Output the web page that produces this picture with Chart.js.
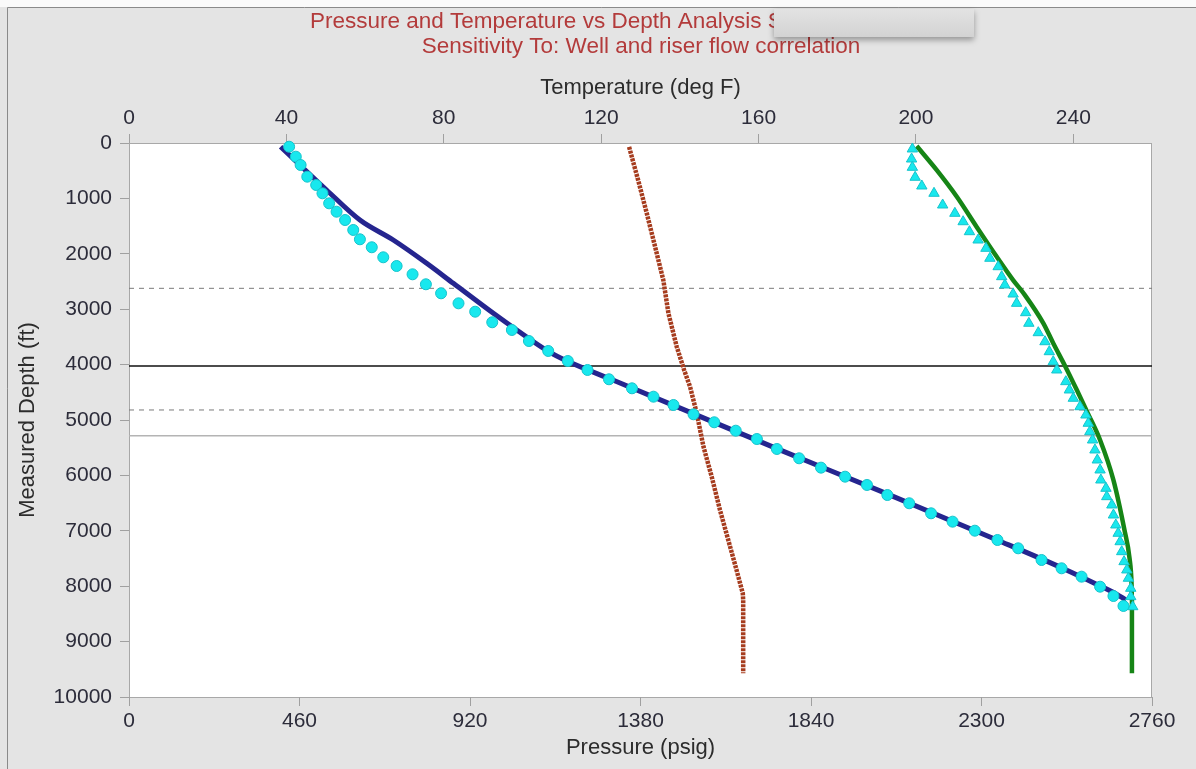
<!DOCTYPE html>
<html>
<head>
<meta charset="utf-8">
<title>Pressure and Temperature vs Depth</title>
<script src="https://cdn.jsdelivr.net/npm/chart.js@4/dist/chart.umd.min.js"></script>
<style>
  html, body { margin: 0; padding: 0; background: #fff; }
  canvas { display: block; }
</style>
</head>
<body>
<canvas id="depthChart" width="1196" height="769"></canvas>
<script>
const titleLines = [
  "Pressure and Temperature vs Depth Analysis S",
  "Sensitivity To: Well and riser flow correlation"
];

// Calculated pressure profile (psig vs ft)
const calcPressure = [409, 533, 623, 713, 803, 875, 983, 1046, 1130, 1182, 1306, 1487, 1756, 2026, 2342, 2517, 2620, 2663, 2690];
const calcPressureDepth = [67, 848, 1390, 1751, 2171, 2532, 3074, 3375, 3755, 3935, 4280, 4785, 5540, 6280, 7165, 7670, 7995, 8140, 8250];

// Measured pressure points
const measPressure = [432, 450, 463, 481, 505, 522, 540, 560, 583, 605, 623, 655, 686, 722, 765, 801, 842, 889, 934, 980,
  1033, 1079, 1131, 1184, 1237, 1295, 1357, 1415, 1469, 1523, 1579, 1637, 1694, 1748, 1808, 1867, 1932, 1991, 2046, 2105,
  2164, 2222, 2282, 2343, 2399, 2462, 2516, 2570, 2620, 2656, 2683];
const measPressureDepth = [67, 247, 397, 608, 758, 908, 1089, 1240, 1390, 1570, 1738, 1882, 2063, 2220, 2370, 2550, 2713, 2894, 3045, 3236,
  3375, 3574, 3754, 3935, 4097, 4265, 4428, 4579, 4729, 4897, 5041, 5193, 5343, 5523, 5691, 5860, 6023, 6173, 6354, 6503,
  6684, 6835, 6998, 7166, 7316, 7527, 7677, 7828, 8009, 8177, 8357];

// Ambient temperature (deg F)
const ambientTemp = [127.1, 129.4, 131.6, 133.7, 135.8, 137.1, 139.2, 141.1, 142.6, 144.3, 146.0, 148.1, 150.2, 152.3, 154.4, 156.0, 156.1, 156.1];
const ambientTempDepth = [70, 670, 1270, 1870, 2475, 3075, 3675, 4100, 4400, 4880, 5480, 6025, 6625, 7165, 7705, 8130, 8250, 9570];

// Calculated fluid temperature
const fluidTemp = [200.2, 205.3, 210.4, 215.4, 220.5, 224.7, 227.7, 232.4, 234.9, 237.9, 240.9, 243.7, 246.8, 250.2, 253.0, 254.3, 254.8, 254.9, 254.9];
const fluidTempDepth = [55, 490, 970, 1510, 2050, 2475, 2745, 3255, 3615, 4025, 4460, 4880, 5360, 6085, 6985, 7500, 7950, 8250, 9570];

// Measured temperature points
const measTemp = [199.1, 198.9, 199.1, 199.8, 201.5, 204.6, 206.8, 209.9, 212.0, 213.6, 215.8, 217.8, 218.8, 220.9, 221.8, 222.6, 224.7,
  225.6, 227.9, 228.7, 231.1, 232.8, 233.9, 234.9, 235.8, 238.1, 239.0, 240.0, 241.7, 243.2, 243.8, 244.2, 244.9, 245.5,
  246.1, 246.8, 247.0, 248.3, 248.5, 249.8, 250.2, 250.8, 251.4, 251.9, 252.3, 252.9, 253.6, 254.0, 254.6, 254.6, 255.1];
const measTempDepth = [108, 289, 439, 619, 776, 908, 1119, 1269, 1421, 1601, 1751, 1901, 2081, 2233, 2413, 2563, 2726,
  2894, 3063, 3254, 3424, 3587, 3767, 3948, 4097, 4308, 4458, 4608, 4760, 4910, 5059, 5211, 5361, 5541,
  5722, 5902, 6083, 6233, 6384, 6534, 6715, 6895, 7045, 7197, 7377, 7557, 7707, 7857, 8038, 8189, 8370];

// Horizontal marker depths (ft)
const markerDepths = [2623, 4025, 4819, 5283];

const pressureRange = [0, 2760];
const tempRange = [0, 260];
const depthRange = [0, 10000];

const FONT = '"Liberation Sans", Arial, sans-serif';
const markerStyles = [
  { color: "#7a7a7a", width: 1, dash: [5, 5] },
  { color: "#111111", width: 1.5, dash: [] },
  { color: "#7a7a7a", width: 1, dash: [5, 5] },
  { color: "#b4b4b4", width: 1.5, dash: [] }
];

function toPoints(xs, ys) {
  return xs.map((x, i) => ({ x: x, y: ys[i] }));
}

// Grey panel, white plot area
const backdrop = {
  id: "backdrop",
  beforeDraw(chart) {
    const { ctx, chartArea: a, width, height } = chart;
    ctx.save();
    ctx.fillStyle = "#fafafa";
    ctx.fillRect(0, 0, width, height);
    ctx.fillStyle = "#e4e4e4";
    ctx.fillRect(0, 7, width, height - 7);
    ctx.strokeStyle = "#8a8a8a";
    ctx.lineWidth = 1;
    ctx.beginPath();
    ctx.moveTo(7.5, height);
    ctx.lineTo(7.5, 7.5);
    ctx.lineTo(width, 7.5);
    ctx.stroke();
    ctx.fillStyle = "#ffffff";
    ctx.fillRect(a.left, a.top, a.right - a.left, a.bottom - a.top);
    ctx.strokeStyle = "#a8a8a8";
    ctx.strokeRect(a.left + 0.5, a.top + 0.5, a.right - a.left - 1, a.bottom - a.top);
    ctx.restore();
  }
};

// Two-line heading plus the grey box covering part of it
const heading = {
  id: "heading",
  afterDraw(chart) {
    const ctx = chart.ctx;
    ctx.save();
    ctx.font = "22.5px " + FONT;
    ctx.fillStyle = "#b33b3b";
    ctx.textBaseline = "middle";
    ctx.textAlign = "left";
    ctx.fillText(titleLines[0], 310, 22);
    ctx.textAlign = "center";
    ctx.fillText(titleLines[1], 641, 47);

    ctx.shadowColor = "rgba(0,0,0,0.35)";
    ctx.shadowBlur = 6;
    ctx.shadowOffsetY = 3;
    const g = ctx.createLinearGradient(0, 10, 0, 38);
    g.addColorStop(0, "#e2e2e2");
    g.addColorStop(1, "#d2d2d2");
    ctx.fillStyle = g;
    ctx.fillRect(774, 9, 200, 28);
    ctx.restore();
  }
};

const datasets = [
  {
    label: "Measured pressure",
    data: toPoints(measPressure, measPressureDepth),
    xAxisID: "x",
    showLine: false,
    pointStyle: "circle",
    pointRadius: 5.5,
    pointBackgroundColor: "#18e8ee",
    pointBorderColor: "#17c4cc",
    pointBorderWidth: 1,
    clip: false,
    order: 1
  },
  {
    label: "Measured temperature",
    data: toPoints(measTemp, measTempDepth),
    xAxisID: "xt",
    showLine: false,
    pointStyle: "triangle",
    pointRadius: 6,
    pointBackgroundColor: "#18e8ee",
    pointBorderColor: "#17c4cc",
    pointBorderWidth: 1,
    clip: false,
    order: 2
  },
  {
    label: "Pressure",
    data: toPoints(calcPressure, calcPressureDepth),
    xAxisID: "x",
    showLine: true,
    borderColor: "#25258f",
    borderWidth: 5,
    pointRadius: 0,
    cubicInterpolationMode: "monotone",
    order: 3
  },
  {
    label: "Fluid temperature",
    data: toPoints(fluidTemp, fluidTempDepth),
    xAxisID: "xt",
    showLine: true,
    borderColor: "#168516",
    borderWidth: 4.5,
    pointRadius: 0,
    cubicInterpolationMode: "monotone",
    order: 4
  },
  {
    label: "Ambient temperature",
    data: toPoints(ambientTemp, ambientTempDepth),
    xAxisID: "xt",
    showLine: true,
    borderColor: "#a63c1e",
    borderWidth: 4.5,
    borderDash: [3, 1],
    pointRadius: 0,
    order: 5
  }
];

markerDepths.forEach((d, i) => {
  const s = markerStyles[i];
  datasets.push({
    label: "Marker " + d,
    data: [{ x: pressureRange[0], y: d }, { x: pressureRange[1], y: d }],
    xAxisID: "x",
    showLine: true,
    borderColor: s.color,
    borderWidth: s.width,
    borderDash: s.dash,
    pointRadius: 0,
    order: 10 + i
  });
});

const tickFont = { family: FONT, size: 21 };
const titleFont = { family: FONT, size: 22 };
const plainNumber = v => String(v);

new Chart(document.getElementById("depthChart"), {
  type: "scatter",
  data: { datasets: datasets },
  options: {
    responsive: false,
    animation: false,
    layout: { padding: { left: 8, top: 60, right: 44, bottom: 0 } },
    plugins: { legend: { display: false }, tooltip: { enabled: false } },
    scales: {
      x: {
        type: "linear",
        position: "bottom",
        min: pressureRange[0],
        max: pressureRange[1],
        ticks: { stepSize: 460, includeBounds: false, callback: plainNumber, color: "#2c2c3a", font: tickFont, padding: 3, maxRotation: 0 },
        grid: { drawOnChartArea: false, tickLength: 9, color: "#a0a0a0" },
        border: { display: false },
        title: { display: true, text: "Pressure (psig)", color: "#2c2c2c", font: titleFont, padding: { top: 0, bottom: 8 } },
        afterFit: s => { s.height = 72; }
      },
      xt: {
        type: "linear",
        position: "top",
        min: tempRange[0],
        max: tempRange[1],
        ticks: { stepSize: 40, includeBounds: false, callback: plainNumber, color: "#2c2c3a", font: tickFont, padding: 3, maxRotation: 0 },
        grid: { drawOnChartArea: false, tickLength: 9, color: "#a0a0a0" },
        border: { display: false },
        title: { display: true, text: "Temperature (deg F)", color: "#2c2c2c", font: titleFont, padding: { top: 15, bottom: 0 } },
        afterFit: s => { s.height = 83; }
      },
      y: {
        type: "linear",
        position: "left",
        reverse: true,
        min: depthRange[0],
        max: depthRange[1],
        ticks: { stepSize: 1000, callback: plainNumber, color: "#2c2c3a", font: tickFont, padding: 8 },
        grid: { drawOnChartArea: false, tickLength: 9, color: "#a0a0a0" },
        border: { display: false },
        title: { display: true, text: "Measured Depth (ft)", color: "#2c2c2c", font: titleFont, padding: { top: 7, bottom: 0 } },
        afterFit: s => { s.width = 121; }
      }
    }
  },
  plugins: [backdrop, heading]
});
</script>
</body>
</html>
